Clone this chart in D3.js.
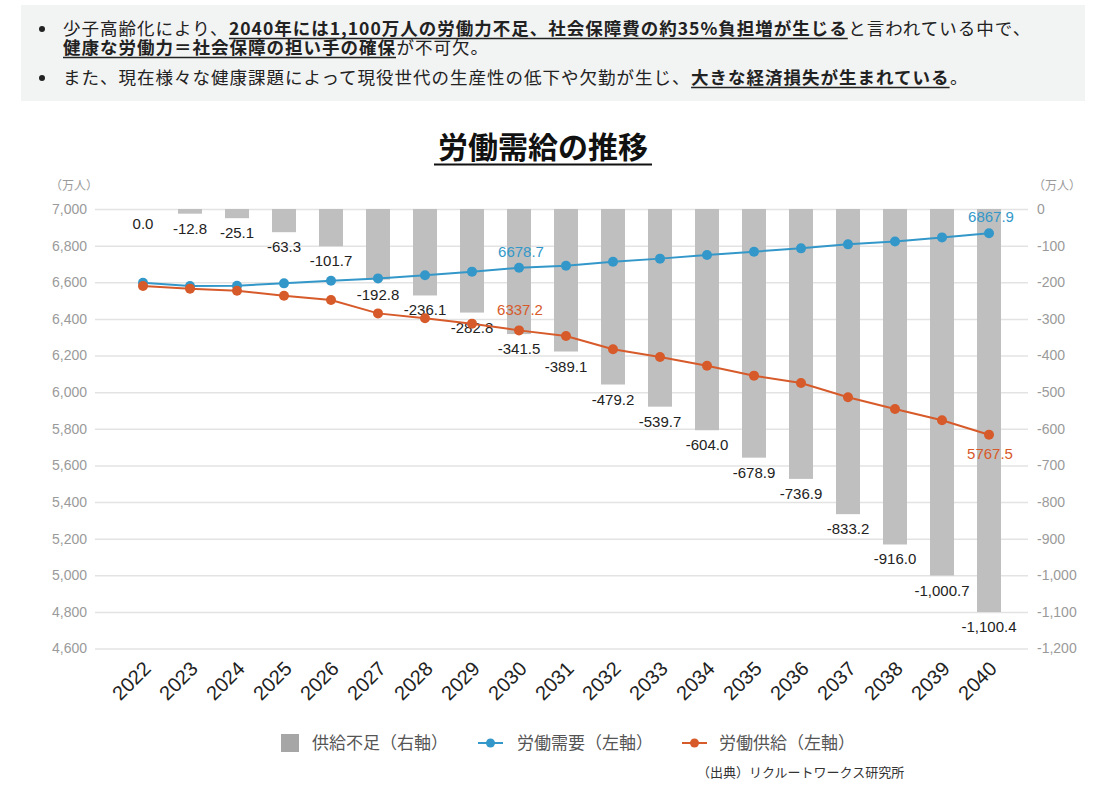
<!DOCTYPE html>
<html><head><meta charset="utf-8">
<script src="https://cdn.jsdelivr.net/npm/d3@7"></script>
<style>
html,body{margin:0;padding:0;background:#fff;}
svg{display:block;}
</style></head>
<body>
<svg id="c" width="1104" height="796"></svg>
<script>
// ---- data ----
const years = ["2022","2023","2024","2025","2026","2027","2028","2029","2030","2031","2032","2033","2034","2035","2036","2037","2038","2039","2040"];
const demand = [6597, 6579, 6581, 6594, 6608, 6621, 6638, 6658, 6678.7, 6690, 6712, 6729, 6749, 6767, 6785, 6807, 6823, 6845, 6867.9];
const supply = [6580, 6565, 6554, 6526, 6503, 6430, 6403, 6374, 6337.2, 6306, 6234, 6192, 6144, 6090, 6050, 5972, 5908, 5846, 5767.5];
const shortage = [0.0, -12.8, -25.1, -63.3, -101.7, -192.8, -236.1, -282.8, -341.5, -389.1, -479.2, -539.7, -604.0, -678.9, -736.9, -833.2, -916.0, -1000.7, -1100.4];
const leftTicks = [4600, 4800, 5000, 5200, 5400, 5600, 5800, 6000, 6200, 6400, 6600, 6800, 7000];
const rightTicks = [-1200, -1100, -1000, -900, -800, -700, -600, -500, -400, -300, -200, -100, 0];
const demandLabelYears = ["2030", "2040"];
const supplyLabelYears = ["2030", "2040"];
const title = "労働需給の推移";
const unitLabel = "（万人）";
const legendItems = ["供給不足（右軸）", "労働需要（左軸）", "労働供給（左軸）"];
const sourceText = "（出典）リクルートワークス研究所";
// each bullet paragraph: list of visual lines, each a list of segments
const bullets = [
  [
    [{t:"少子高齢化により、"},{t:"2040年には1,100万人の労働力不足、社会保障費の約35%負担増が生じる",b:1},{t:"と言われている中で、"}],
    [{t:"健康な労働力＝社会保障の担い手の確保",b:1},{t:"が不可欠。"}]
  ],
  [
    [{t:"また、現在様々な健康課題によって現役世代の生産性の低下や欠勤が生じ、"},{t:"大きな経済損失が生まれている",b:1},{t:"。"}]
  ]
];

// ---- styles ----
const BLUE = "#3398c9", ORANGE = "#d75a2a", BAR = "#bfbfbf", GRID = "#e3e3e3";
const JP = "'Noto Sans CJK JP','Noto Sans',sans-serif";
const NUM = "'Liberation Sans',Arial,sans-serif";

const svg = d3.select("#c");
const loc = d3.formatLocale({decimal:".", thousands:",", grouping:[3], currency:["",""], minus:"-"});
const fInt = loc.format(",");
const f1 = loc.format(",.1f");

// ---- top text box ----
svg.append("rect").attr("x",21).attr("y",5).attr("width",1064).attr("height",96).attr("fill","#f2f3f3");
const tb = svg.append("g").attr("font-family",JP).attr("font-size",17.5).attr("letter-spacing",1).attr("fill","#222");
const paraYs = [[35, 54], [84]];
bullets.forEach((para, p) => {
  tb.append("circle").attr("cx",42).attr("cy",paraYs[p][0]-6).attr("r",3).attr("fill","#222");
  const txt = tb.append("text");
  para.forEach((segs, li) => {
    const y = paraYs[p][li];
    let cx = 63;
    segs.forEach(s => {
      const ts = txt.append("tspan").attr("x",cx).attr("y",y).attr("font-weight",s.b?700:400).text(s.t);
      const w = ts.node().getComputedTextLength();
      if (s.b) tb.append("line").attr("x1",cx).attr("x2",cx+w).attr("y1",y+3.5).attr("y2",y+3.5).attr("stroke","#222").attr("stroke-width",1.5);
      cx += w + 0.5;
    });
  });
});

// ---- title ----
const tt = svg.append("text").attr("x",543).attr("y",158).attr("text-anchor","middle")
  .attr("font-family",JP).attr("font-size",30).attr("font-weight",700).attr("fill","#111").text(title);
const tbb = tt.node().getBBox();
svg.append("line").attr("x1",tbb.x - 4).attr("x2",tbb.x+tbb.width + 4).attr("y1",164.5).attr("y2",164.5).attr("stroke","#111").attr("stroke-width",2);

// ---- scales ----
const x = d3.scalePoint().domain(years).range([143, 989]);
const yL = d3.scaleLinear().domain([4600, 7000]).range([648.5, 209]);
const yR = d3.scaleLinear().domain([-1200, 0]).range([648.5, 209]);
const gridX0 = 95, gridX1 = 1028, barW = 24;

// gridlines
svg.append("g").attr("transform",`translate(${gridX0},0)`)
  .call(d3.axisLeft(yL).tickValues(leftTicks).tickSize(-(gridX1-gridX0)).tickFormat(""))
  .call(g => g.select(".domain").remove())
  .call(g => g.selectAll("line").attr("stroke",GRID).attr("stroke-width",1.5));

// left axis labels
svg.append("g").attr("transform",`translate(${gridX0},0)`)
  .call(d3.axisLeft(yL).tickValues(leftTicks).tickSize(0).tickPadding(8).tickFormat(fInt))
  .call(g => g.select(".domain").remove())
  .call(g => g.selectAll("text").attr("font-family",NUM).attr("font-size",14).attr("fill","#9a9a9a"));

// right axis labels
svg.append("g").attr("transform",`translate(${gridX1},0)`)
  .call(d3.axisRight(yR).tickValues(rightTicks).tickSize(0).tickPadding(9).tickFormat(fInt))
  .call(g => g.select(".domain").remove())
  .call(g => g.selectAll("text").attr("font-family",NUM).attr("font-size",14).attr("fill","#9a9a9a"));

// unit labels
svg.append("text").attr("x",50).attr("y",190).attr("font-family",JP).attr("font-size",12).attr("fill","#9a9a9a").text(unitLabel);
svg.append("text").attr("x",1033).attr("y",190).attr("font-family",JP).attr("font-size",12).attr("fill","#9a9a9a").text(unitLabel);

// bars
svg.append("g").selectAll("rect").data(years).join("rect")
  .attr("x", d => x(d) - barW/2)
  .attr("y", yR(0))
  .attr("width", barW)
  .attr("height", (d,i) => yR(shortage[i]) - yR(0))
  .attr("fill", BAR);

// bar labels
svg.append("g").selectAll("text").data(years).join("text")
  .attr("x", d => x(d))
  .attr("y", (d,i) => yR(shortage[i]) + 20)
  .attr("text-anchor","middle").attr("font-family",NUM).attr("font-size",15).attr("fill","#222")
  .text((d,i) => f1(shortage[i]));

// lines
function drawSeries(vals, color) {
  const line = d3.line().x((d,i) => x(years[i])).y(d => yL(d));
  svg.append("path").datum(vals).attr("d", line).attr("fill","none").attr("stroke",color).attr("stroke-width",2);
  svg.append("g").selectAll("circle").data(vals).join("circle")
    .attr("cx",(d,i) => x(years[i])).attr("cy", d => yL(d)).attr("r",5).attr("fill",color);
}
drawSeries(demand, BLUE);
drawSeries(supply, ORANGE);

// line labels
demandLabelYears.forEach(yr => {
  const i = years.indexOf(yr);
  svg.append("text").attr("x", x(yr)+2).attr("y", yL(demand[i]) - 11)
    .attr("text-anchor","middle").attr("font-family",NUM).attr("font-size",15).attr("fill",BLUE).text(demand[i].toFixed(1));
});
supplyLabelYears.forEach((yr, k) => {
  const i = years.indexOf(yr);
  const dy = k === 0 ? -15 : 24;
  svg.append("text").attr("x", x(yr)+1).attr("y", yL(supply[i]) + dy)
    .attr("text-anchor","middle").attr("font-family",NUM).attr("font-size",15).attr("fill",ORANGE).text(supply[i].toFixed(1));
});

// x axis labels
svg.append("g").selectAll("text").data(years).join("text")
  .attr("transform", d => `translate(${x(d)+9},670) rotate(-45)`)
  .attr("text-anchor","end").attr("font-family",NUM).attr("font-size",20).attr("fill","#222")
  .text(d => d);

// legend
const lg = svg.append("g").attr("font-family",JP).attr("font-size",17).attr("fill","#555");
lg.append("rect").attr("x",281).attr("y",734).attr("width",18).attr("height",18).attr("fill","#a6a6a6");
lg.append("text").attr("x",312).attr("y",749).text(legendItems[0]);
[[478, BLUE, 517, legendItems[1]], [682, ORANGE, 719, legendItems[2]]].forEach(([lx, c, tx, label]) => {
  lg.append("line").attr("x1",lx).attr("x2",lx+25).attr("y1",743).attr("y2",743).attr("stroke",c).attr("stroke-width",2);
  lg.append("circle").attr("cx",lx+12.5).attr("cy",743).attr("r",4.5).attr("fill",c);
  lg.append("text").attr("x",tx).attr("y",749).text(label);
});

// source
svg.append("text").attr("x",697).attr("y",777).attr("font-family",JP).attr("font-size",13).attr("fill","#333").text(sourceText);
</script>
</body></html>
